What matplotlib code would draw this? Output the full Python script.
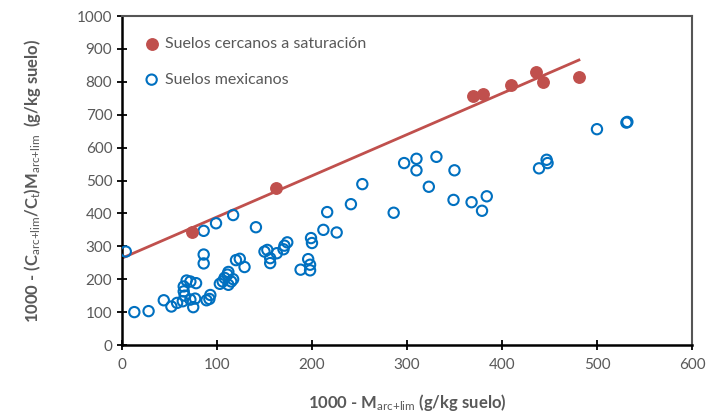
import matplotlib
matplotlib.use("Agg")
from matplotlib import pyplot as plt
import numpy as np

# suelos cercanos a saturacion (rojo, relleno)
sat_x = [74, 162, 369, 380, 410, 436, 443, 481]
sat_y = [345, 476, 756, 762, 789, 830, 799, 815]

# suelos mexicanos (azul, huecos)
mex_x = [4, 13, 28, 44, 52, 58, 64, 65, 66, 65, 68, 72, 78, 72, 77, 75,
         86, 86, 86, 89, 92, 93, 99, 103, 106, 108, 111, 112, 112, 115, 117, 117,
         120, 124, 129, 141, 150, 153, 156, 156, 163, 170, 174, 171,
         188, 196, 198, 198, 199, 200, 212, 216, 226, 241,
         253, 286, 297, 310, 310, 323, 331, 349, 350, 368, 379, 384,
         439, 447, 448, 500, 531, 532]
mex_y = [284, 100, 103, 136, 117, 128, 133, 163, 150, 178, 196, 193, 188, 138, 141, 115,
         347, 275, 248, 136, 140, 152, 370, 186, 193, 204, 214, 222, 183, 193, 200, 395,
         258, 262, 237, 358, 284, 289, 264, 249, 279, 291, 312, 302,
         229, 261, 244, 227, 325, 310, 350, 404, 342, 428,
         489, 402, 553, 566, 531, 481, 572, 441, 531, 434, 408, 452,
         537, 563, 553, 656, 676, 678]

# linea de tendencia
trend_b = 264
trend_m = 1.252
trend_xmax = 481

x_ticks = [0, 100, 200, 300, 400, 500, 600]
y_ticks = [0, 100, 200, 300, 400, 500, 600, 700, 800, 900, 1000]

plt.rcParams['font.family'] = ['Lato', 'DejaVu Sans']
plt.rcParams['mathtext.fontset'] = 'custom'
plt.rcParams['mathtext.rm'] = 'Lato'
plt.rcParams['mathtext.it'] = 'Lato:italic'
plt.rcParams['mathtext.bf'] = 'Lato:bold'

gris = '#595959'
rojo = '#C0504D'
azul = '#0070C0'

fig = plt.figure(figsize=(7.10, 4.19), dpi=100)
ax = fig.add_axes([0.1718, 0.1766, 0.8028, 0.7852])

tx = np.array([0, trend_xmax])
ax.plot(tx, trend_b + trend_m * tx, color=rojo, lw=2, zorder=2)

ax.scatter(mex_x, mex_y, s=55, facecolors='none', edgecolors=azul,
           linewidths=1.5, zorder=3, label='Suelos mexicanos')
ax.scatter(sat_x, sat_y, s=68, color=rojo, zorder=4,
           label='Suelos cercanos a saturación')

ax.set_xlim(0, 600)
ax.set_ylim(0, 1000)
ax.set_xticks(x_ticks)
ax.set_yticks(y_ticks)
ax.tick_params(direction='inout', length=7, width=1.3, colors='black',
               labelcolor=gris, labelsize=11)
ax.tick_params(axis='x', pad=6)

for lado in ['left', 'bottom']:
    ax.spines[lado].set_color('black')
    ax.spines[lado].set_linewidth(1.8)
for lado in ['top', 'right']:
    ax.spines[lado].set_color('#555555')
    ax.spines[lado].set_linewidth(1.5)

ax.set_xlabel(r'1000 - M$_{\mathrm{arc{+}lim}}$ (g/kg suelo)', fontsize=12,
              fontweight='bold', color=gris, labelpad=14)
ax.set_ylabel(r'1000 - (C$_{\mathrm{arc{+}lim}}$/C$_{\mathrm{t}}$)M$_{\mathrm{arc{+}lim}}$  (g/kg suelo)',
              fontsize=12, fontweight='bold', color=gris, labelpad=24)

h, l = ax.get_legend_handles_labels()
leg = ax.legend(h[::-1], l[::-1], loc='upper left', frameon=False, fontsize=11.5,
                handletextpad=0.35, borderaxespad=0.6, labelspacing=1.35,
                bbox_to_anchor=(0.01, 0.985), handlelength=1.0)
for t in leg.get_texts():
    t.set_color(gris)

fig.savefig('out.png', dpi=100)
